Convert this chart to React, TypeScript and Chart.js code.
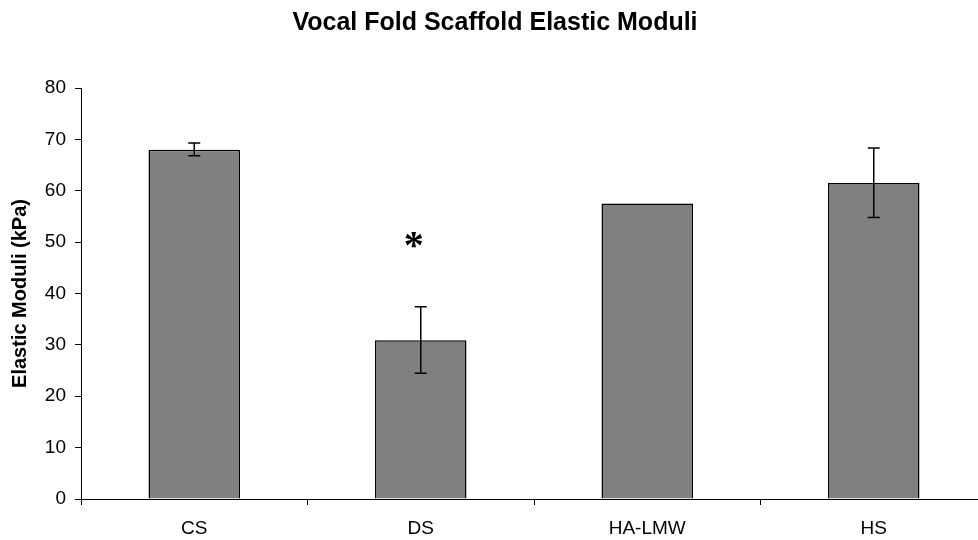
import React, { useEffect, useRef } from "react";
import { Chart, registerables } from "chart.js";

Chart.register(...registerables);

const categories = ["CS", "DS", "HA-LMW", "HS"];
const moduli = [68.0, 30.9, 57.5, 61.5];
const errLow: (number | null)[] = [66.8, 24.5, null, 54.8];
const errHigh: (number | null)[] = [69.3, 37.4, null, 68.3];
const markerText = ["", "*", "", ""];
const markerValue: (number | null)[] = [null, 50, null, null];
const yMin = 0;
const yMax = 80;
const yStep = 10;
const titleText = "Vocal Fold Scaffold Elastic Moduli";
const yTitle = "Elastic Moduli (kPa)";

const errorBarPlugin = {
  id: "errorBars",
  afterDatasetsDraw(chart: any) {
    const { ctx, scales } = chart;
    const xs = scales.x;
    const ys = scales.y;
    ctx.save();
    ctx.strokeStyle = "#000";
    ctx.lineWidth = 1.5;
    categories.forEach((_, i) => {
      const lo = errLow[i];
      const hi = errHigh[i];
      if (lo == null || hi == null) return;
      const x = xs.getPixelForValue(i);
      const y1 = ys.getPixelForValue(lo);
      const y2 = ys.getPixelForValue(hi);
      ctx.beginPath();
      ctx.moveTo(x, y1);
      ctx.lineTo(x, y2);
      ctx.moveTo(x - 6, y1);
      ctx.lineTo(x + 6, y1);
      ctx.moveTo(x - 6, y2);
      ctx.lineTo(x + 6, y2);
      ctx.stroke();
    });
    // significance markers
    ctx.fillStyle = "#000";
    ctx.font = "bold 40px 'Liberation Serif'";
    ctx.textAlign = "center";
    ctx.textBaseline = "alphabetic";
    categories.forEach((_, i) => {
      const v = markerValue[i];
      if (v == null || !markerText[i]) return;
      const x = xs.getPixelForValue(i) - 7;
      const y = ys.getPixelForValue(v);
      ctx.fillText(markerText[i], x, y + 16);
    });
    ctx.restore();
  },
};

const titlePlugin = {
  id: "customTitle",
  afterDraw(chart: any) {
    const { ctx, width } = chart;
    ctx.save();
    ctx.fillStyle = "#000";
    ctx.font = "bold 25px 'Liberation Sans'";
    ctx.textAlign = "center";
    ctx.textBaseline = "alphabetic";
    ctx.fillText(titleText, width / 2, 30);
    ctx.restore();
  },
};

export default function App() {
  const ref = useRef<HTMLCanvasElement | null>(null);
  useEffect(() => {
    if (!ref.current) return;
    const chart = new Chart(ref.current, {
      type: "bar",
      data: {
        labels: categories,
        datasets: [
          {
            data: moduli,
            backgroundColor: "#808080",
            borderColor: "#000",
            borderWidth: 1.5,
            barPercentage: 0.404,
            categoryPercentage: 1,
          },
        ],
      },
      options: {
        animation: false,
        responsive: false,
        devicePixelRatio: 1,
        layout: { padding: { top: 88, right: 3, left: 0, bottom: 0 } },
        plugins: {
          legend: { display: false },
          tooltip: { enabled: false },
          title: { display: false },
        },
        scales: {
          x: {
            offset: true,
            grid: {
              offset: true,
              drawOnChartArea: false,
              drawTicks: true,
              tickLength: 6,
              color: "#000",
              lineWidth: 1,
            },
            border: { color: "#000", width: 1 },
            ticks: {
              color: "#000",
              padding: 12,
              font: { family: "'Liberation Sans'", size: 19 },
              maxRotation: 0,
            },
            afterFit(scale: any) {
              scale.height = 41;
            },
          },
          y: {
            min: yMin,
            max: yMax,
            grid: {
              drawOnChartArea: false,
              drawTicks: true,
              tickLength: 6,
              color: "#000",
              lineWidth: 1,
            },
            border: { color: "#000", width: 1 },
            ticks: {
              stepSize: yStep,
              color: "#000",
              padding: 9,
              font: { family: "'Liberation Sans'", size: 19 },
            },
            title: {
              display: true,
              text: yTitle,
              color: "#000",
              font: { family: "'Liberation Sans'", size: 20, weight: "bold" },
              padding: { top: 8, bottom: 0 },
            },
            afterFit(scale: any) {
              scale.width = 81;
            },
          },
        },
      },
      plugins: [errorBarPlugin, titlePlugin],
    });
    return () => chart.destroy();
  }, []);

  return (
    <div
      style={{
        position: "fixed",
        left: 0,
        top: 0,
        width: 978,
        height: 540,
        overflow: "hidden",
        background: "#fff",
      }}
    >
      <canvas ref={ref} width={990} height={540} style={{ display: "block" }} />
    </div>
  );
}
